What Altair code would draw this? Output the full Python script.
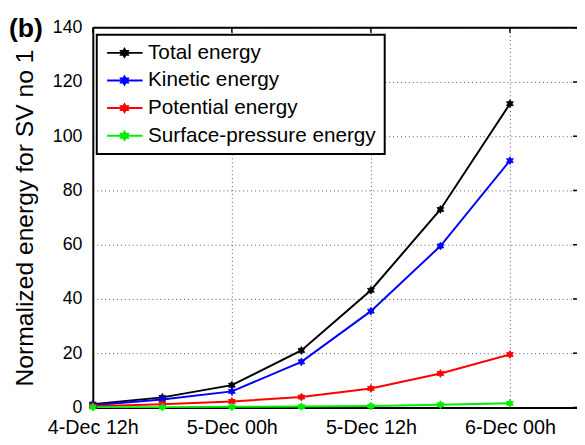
import altair as alt
import pandas as pd

# ---- data ----
series_names = ["Total energy", "Kinetic energy", "Potential energy", "Surface-pressure energy"]
series_colors = ["#000000", "#0000ff", "#ff0000", "#00ee00"]
hours = [0, 6, 12, 18, 24, 30, 36]          # hours after 4-Dec 12h
total = [1.2, 3.7, 8.2, 21.0, 43.2, 73.0, 112.0]
kinetic = [0.8, 2.9, 5.9, 16.8, 35.5, 59.5, 91.0]
potential = [0.4, 1.2, 2.2, 3.8, 7.0, 12.5, 19.5]
surface = [0.1, 0.1, 0.2, 0.3, 0.5, 1.0, 1.5]
x_tick_values = [0, 12, 24, 36]
x_tick_labels = ["4-Dec 12h", "5-Dec 00h", "5-Dec 12h", "6-Dec 00h"]
y_tick_values = [0, 20, 40, 60, 80, 100, 120, 140]
panel_label = ["(b)"]

rows = []
for name, vals in zip(series_names, [total, kinetic, potential, surface]):
    for h, v in zip(hours, vals):
        rows.append({"time": h, "energy": v, "series": name})
df = pd.DataFrame(rows)

W, H = 491, 385
FONT = "Liberation Sans"

# hexagram marker path
star_pts = [(0, -1), (0.289, -0.5), (0.866, -0.5), (0.577, 0), (0.866, 0.5), (0.289, 0.5),
            (0, 1), (-0.289, 0.5), (-0.866, 0.5), (-0.577, 0), (-0.866, -0.5), (-0.289, -0.5)]
STAR = "M" + "L".join(f"{x:.3f},{y:.3f}" for x, y in star_pts) + "Z"
# legend symbol: a line with a small star in the middle
cx, r = 1.2, 0.5
LEG = "M-1,0L3.5,0M" + "L".join(f"{cx + x * r:.3f},{y * r:.3f}" for x, y in star_pts) + "Z"

label_expr = " : ".join(f"datum.value == {v} ? '{l}'" for v, l in zip(x_tick_values, x_tick_labels)) + " : ''"

xscale = alt.Scale(domain=[0, W / 11.75], nice=False, zero=False)
yscale = alt.Scale(domain=[0, 140], nice=False)

xaxis = alt.Axis(values=x_tick_values, labelExpr=label_expr, title=None, ticks=False,
                 grid=True, gridDash=[1, 3], gridColor="#555555", gridWidth=1,
                 domainColor="black", domainWidth=2, labelFont=FONT, labelFontSize=20,
                 labelColor="black", labelPadding=10, labelFlush=False)
yaxis = alt.Axis(values=y_tick_values, title="Normalized energy for SV no 1", ticks=False,
                 grid=True, gridDash=[1, 3], gridColor="#555555", gridWidth=1,
                 domainColor="black", domainWidth=2, labelFont=FONT, labelFontSize=18,
                 labelColor="black", labelPadding=11, titleFont=FONT, titleFontSize=25,
                 titleFontWeight="normal", titleColor="black", titlePadding=15)

color_scale = alt.Scale(domain=series_names, range=series_colors)
legend = alt.Legend(title=None, orient="none", legendX=4, legendY=7, symbolType=LEG,
                    symbolSize=256, symbolStrokeWidth=2, labelFont=FONT, labelFontSize=21,
                    labelColor="black", labelLimit=400, labelOffset=23, padding=8,
                    rowPadding=6, strokeColor="black", fillColor="white")

x_enc = alt.X("time:Q", scale=xscale, axis=xaxis)
y_enc = alt.Y("energy:Q", scale=yscale, axis=yaxis)

lines = alt.Chart(df).mark_line(strokeWidth=2).encode(
    x=x_enc, y=y_enc,
    stroke=alt.Stroke("series:N", scale=color_scale, legend=legend, sort=series_names),
)
points = alt.Chart(df).mark_point(filled=True, shape=STAR, size=64, strokeWidth=0.8, opacity=1).encode(
    x=x_enc, y=y_enc,
    fill=alt.Fill("series:N", scale=color_scale, legend=legend, sort=series_names),
    stroke=alt.Stroke("series:N", scale=color_scale, legend=legend, sort=series_names),
)

frame_df = pd.DataFrame({"k": [0]})
top_border = alt.Chart(frame_df).mark_rule(color="black", strokeWidth=2).encode(
    x=alt.value(0), x2=alt.value(W), y=alt.value(0))
top_ticks = alt.Chart(pd.DataFrame({"time": x_tick_values})).mark_rule(color="black", strokeWidth=1.5).encode(
    x=x_enc, y=alt.value(0), y2=alt.value(5))
right_ticks = alt.Chart(pd.DataFrame({"energy": y_tick_values})).mark_rule(color="black", strokeWidth=1.5).encode(
    y=y_enc, x=alt.value(W - 4), x2=alt.value(W))
panel = alt.Chart(pd.DataFrame({"lab": panel_label})).mark_text(
    font=FONT, fontSize=27, fontWeight="bold", color="black", align="left", baseline="alphabetic"
).encode(text="lab:N", x=alt.value(-85), y=alt.value(9))

chart = alt.layer(lines, points, top_border, top_ticks, right_ticks, panel).properties(
    width=W, height=H,
    padding={"left": 86, "top": 17, "right": 0, "bottom": 27},
    autosize=alt.AutoSizeParams(type="none"),
).configure_view(strokeWidth=0).configure_legend(strokeWidth=2)

chart.save("out.html", embed_options={"renderer": "svg", "actions": False})
